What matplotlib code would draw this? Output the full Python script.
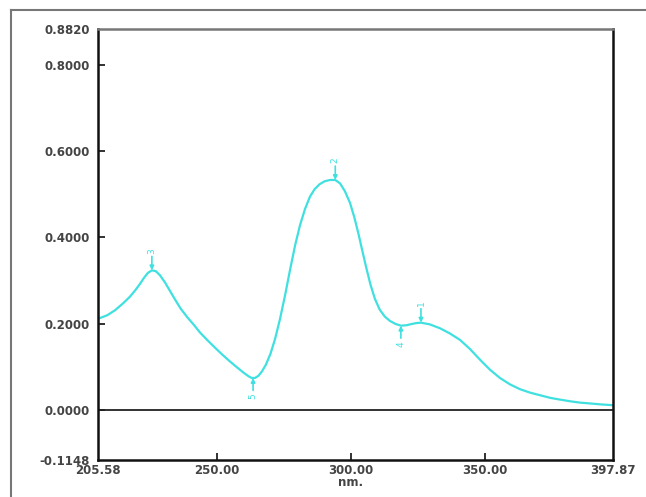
"""
UV absorption spectrum with marked peaks and valleys
"""
import numpy as np
import matplotlib.pyplot as plt
from matplotlib.lines import Line2D

# spectrum (nm, absorbance)
wavelength = [205.58, 209.0, 212.0, 215.0, 217.5, 219.5, 221.3, 222.8, 224.2, 225.7,
              227.2, 228.8, 230.6, 232.5, 234.5, 236.5, 239.0, 241.5, 243.7, 246.5,
              249.3, 252.0, 254.9, 257.8, 260.0, 261.8, 263.0, 264.2, 265.5, 266.8,
              268.3, 270.0, 271.7, 273.5, 275.5, 277.3, 279.2, 281.0, 282.9, 284.7,
              286.5, 288.3, 290.2, 292.2, 294.2, 296.0, 297.8, 299.7, 301.3, 302.8,
              304.2, 305.7, 307.3, 309.0, 310.8, 312.7, 314.6, 316.7, 318.7, 320.8,
              322.8, 324.5, 326.2, 329.5, 333.3, 337.0, 340.8, 344.5, 348.3, 352.0,
              355.7, 359.5, 363.2, 367.0, 370.7, 374.5, 378.1, 382.0, 385.6, 389.5,
              393.1, 397.87]
absorbance = [0.212, 0.220, 0.232, 0.248, 0.263, 0.278, 0.293, 0.307, 0.318, 0.324,
              0.322, 0.312, 0.296, 0.276, 0.255, 0.235, 0.215, 0.197, 0.180, 0.162,
              0.145, 0.129, 0.113, 0.098, 0.087, 0.079, 0.075, 0.075, 0.080, 0.090,
              0.106, 0.131, 0.165, 0.210, 0.268, 0.325, 0.382, 0.428, 0.466, 0.494,
              0.512, 0.523, 0.530, 0.533, 0.533, 0.525, 0.507, 0.480, 0.447, 0.410,
              0.372, 0.332, 0.292, 0.258, 0.233, 0.217, 0.207, 0.200, 0.196, 0.197,
              0.200, 0.202, 0.203, 0.199, 0.190, 0.178, 0.163, 0.142, 0.117, 0.094,
              0.075, 0.060, 0.049, 0.041, 0.035, 0.029, 0.025, 0.021, 0.018, 0.016,
              0.014, 0.012]

# numbered peaks (arrow from above) and valleys (arrow from below)
peak_nm = [326.2, 294.2, 225.7]
peak_labels = ['1', '2', '3']
valley_nm = [318.7, 263.5]
valley_labels = ['4', '5']

x_ticks = [205.58, 250.00, 300.00, 350.00, 397.87]
y_ticks = [-0.1148, 0.0, 0.2, 0.4, 0.6, 0.8, 0.882]

curve_color = '#40e0e0'
label_kw = dict(fontfamily='DejaVu Sans', fontweight='bold', fontsize=8.5, color='#444444')

fig = plt.figure(figsize=(6.46, 4.97), dpi=100)
ax = fig.add_axes([0.1517, 0.0744, 0.797, 0.867])

ax.plot(wavelength, absorbance, color=curve_color, lw=1.6)
ax.axhline(0, color='#222222', lw=1.3)

ax.set_xlim(x_ticks[0], x_ticks[-1])
ax.set_ylim(y_ticks[0], y_ticks[-1])

ax.set_xticks(x_ticks)
ax.set_xticklabels(['%.2f' % v for v in x_ticks], **label_kw)
ax.set_yticks(y_ticks)
ax.set_yticklabels(['%.4f' % v for v in y_ticks], **label_kw)
ax.tick_params(direction='in', length=5, width=1.3, color='#222222')
ax.tick_params(axis='x', pad=3)
ax.tick_params(axis='y', pad=6)
# no tick marks at the axis limits
for t in ax.xaxis.get_major_ticks()[::4] + ax.yaxis.get_major_ticks()[::6]:
    t.tick1line.set_visible(False)
for t in ax.xaxis.get_major_ticks() + ax.yaxis.get_major_ticks():
    t.tick2line.set_visible(False)

for side in ['left', 'bottom', 'right']:
    ax.spines[side].set_color('#111111')
    ax.spines[side].set_linewidth(1.8)
ax.spines['top'].set_color('#777777')
ax.spines['top'].set_linewidth(1.8)

ax.text(300, -0.1675, 'nm.', ha='center', va='center', **label_kw)

# peak / valley markers
mark_kw = dict(color=curve_color, fontsize=6.5, rotation=90, ha='center', va='center')
for nm, lab in zip(peak_nm, peak_labels):
    y = np.interp(nm, wavelength, absorbance)
    ax.annotate('', xy=(nm, y), xytext=(0, 10), textcoords='offset points',
                arrowprops=dict(arrowstyle='-|>', color=curve_color, lw=1.2,
                                mutation_scale=6, shrinkA=0, shrinkB=0))
    ax.annotate(lab, xy=(nm, y), xytext=(0, 14), textcoords='offset points', **mark_kw)
for nm, lab in zip(valley_nm, valley_labels):
    y = np.interp(nm, wavelength, absorbance)
    ax.annotate('', xy=(nm, y), xytext=(0, -9), textcoords='offset points',
                arrowprops=dict(arrowstyle='-|>', color=curve_color, lw=1.2,
                                mutation_scale=6, shrinkA=0, shrinkB=0))
    ax.annotate(lab, xy=(nm, y), xytext=(0, -13), textcoords='offset points', **mark_kw)

# outer frame of the scan
fig.add_artist(Line2D([11 / 646, 11 / 646], [0, 1 - 10 / 497], color='#777777', lw=1.5))
fig.add_artist(Line2D([11 / 646, 1], [1 - 10 / 497, 1 - 10 / 497], color='#777777', lw=1.5))

fig.savefig('out.png', dpi=100)
